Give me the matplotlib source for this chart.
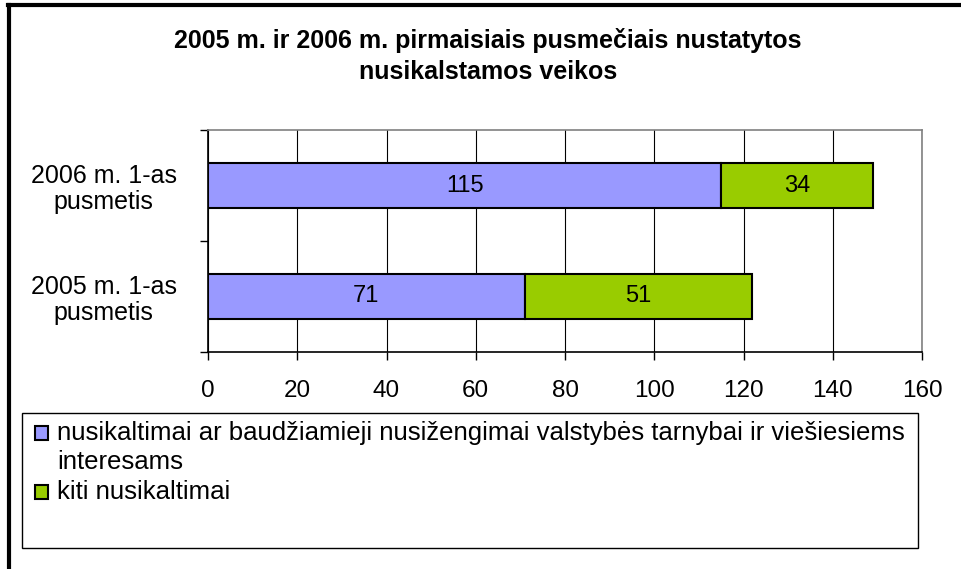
import numpy as np
import matplotlib.pyplot as plt
from matplotlib.patches import Rectangle
from matplotlib.lines import Line2D

# data
categories = ['2005 m. 1-as\npusmetis', '2006 m. 1-as\npusmetis']
series_names = ['nusikaltimai ar baudžiamieji nusižengimai valstybės tarnybai ir viešiesiems\ninteresams',
                'kiti nusikaltimai']
valstybes = [71, 115]
kiti = [51, 34]
colors = ['#9999FF', '#99CC00']
title = '2005 m. ir 2006 m. pirmaisiais pusmečiais nustatytos\nnusikalstamos veikos'

W, H = 961, 569
plt.rcParams['font.family'] = ['Liberation Sans', 'DejaVu Sans']
fig = plt.figure(figsize=(W / 100, H / 100), dpi=100)

# axes in pixel coordinates: x 208..922, y 130..352
ax = fig.add_axes([208 / W, 1 - 352 / H, (922 - 208) / W, (352 - 130) / H])

y = np.arange(len(categories))
b1 = ax.barh(y, valstybes, height=0.4, color=colors[0], edgecolor='black', lw=1.5, zorder=3)
b2 = ax.barh(y, kiti, left=valstybes, height=0.4, color=colors[1], edgecolor='black', lw=1.5, zorder=3)
ax.bar_label(b1, label_type='center', fontsize=17)
ax.bar_label(b2, label_type='center', fontsize=17)

ax.set_xlim(0, 160)
ax.set_ylim(-0.5, 1.5)
ax.set_xticks(np.arange(0, 161, 20))
ax.set_yticks([-0.5, 0.5, 1.5])
ax.set_yticks(y, minor=True)
ax.set_yticklabels([])
ax.set_yticklabels(categories, minor=True, ha='center', fontsize=18, linespacing=1.12)
ax.tick_params(axis='y', which='minor', length=0, pad=75)
ax.tick_params(axis='y', which='major', length=6, direction='out', width=1)
ax.tick_params(axis='x', length=6, direction='out', width=1, labelsize=17.5, pad=14)
ax.xaxis.grid(True, color='black', lw=0.8, zorder=0)
for s in ['top', 'right']:
    ax.spines[s].set_color('#808080')
    ax.spines[s].set_linewidth(1.2)
for s in ['left', 'bottom']:
    ax.spines[s].set_linewidth(1.2)

fig.text(488 / W, 1 - 56 / H, title, ha='center', va='center',
         fontsize=18, fontweight='bold', linespacing=1.4)

# legend box, drawn by hand so the marker sits on the first text line
fig.add_artist(Rectangle((22 / W, 1 - 548 / H), (918 - 22) / W, (548 - 413) / H,
                         transform=fig.transFigure, fill=False, ec='black', lw=1))
line_px = 29.5
row_top = 433
for name, col in zip(series_names, colors):
    fig.add_artist(Rectangle((35 / W, 1 - (row_top + 7) / H), 13 / W, 14 / H,
                             transform=fig.transFigure, fc=col, ec='black', lw=1.5))
    fig.text(57 / W, 1 - (row_top - 12) / H, name, ha='left', va='top',
             fontsize=18.5, linespacing=1.27)
    row_top += line_px * (name.count('\n') + 1)

# outer frame (top and left only)
fig.add_artist(Line2D([8 / W, 1], [1 - 5 / H, 1 - 5 / H], transform=fig.transFigure, color='black', lw=3))
fig.add_artist(Line2D([9 / W, 9 / W], [0, 1 - 5 / H], transform=fig.transFigure, color='black', lw=3))

fig.savefig('out.png', dpi=100)
